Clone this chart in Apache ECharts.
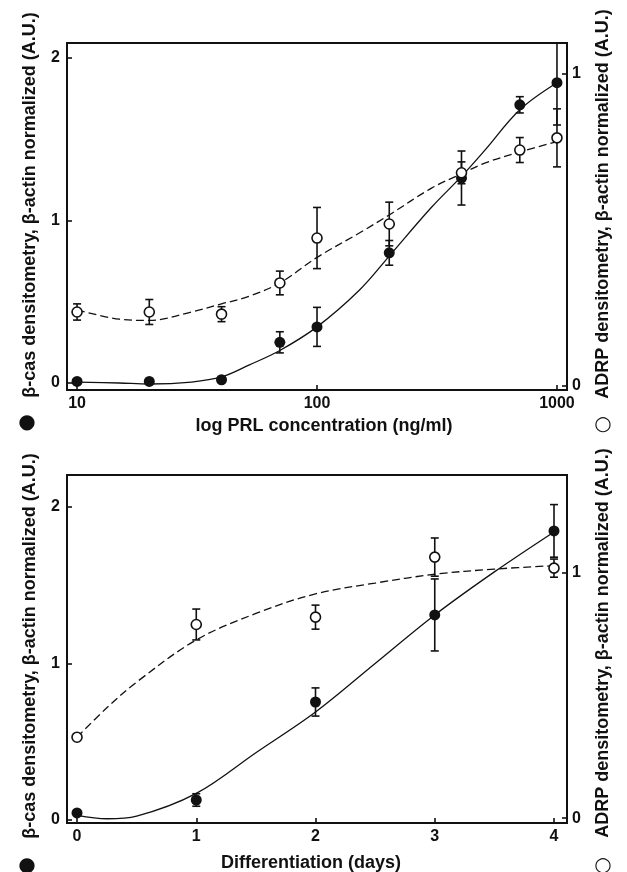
<!DOCTYPE html>
<html><head><meta charset="utf-8">
<script src="https://cdn.jsdelivr.net/npm/echarts@6/dist/echarts.min.js"></script>
<style>html,body{margin:0;padding:0;background:#fff}#c{width:627px;height:872px}</style>
</head><body><div id="c"></div>
<script>
// ---- Top panel: PRL concentration (log scale) ----
const prlConc = [10, 20, 40, 70, 100, 200, 400, 700, 1000];
const casPrl = [0.01, 0.01, 0.02, 0.25, 0.345, 0.80, 1.26, 1.71, 1.846];
const casPrlErr = [0, 0, 0, 0.065, 0.12, 0.076, 0.166, 0.05, 0.26];
const adrpPrl = [0.237, 0.237, 0.23, 0.33, 0.474, 0.519, 0.683, 0.756, 0.795];
const adrpPrlErr = [0.026, 0.04, 0.024, 0.038, 0.098, 0.07, 0.035, 0.04, 0.093];
const prlFitX = [10, 15, 20, 30, 40, 52, 70, 100, 150, 200, 300, 400, 500, 700, 1000];
const casPrlFit = [0.006, 0.0, -0.006, 0.006, 0.037, 0.11, 0.2, 0.345, 0.57, 0.78, 1.08, 1.27, 1.43, 1.68, 1.846];
const adrpPrlFit = [0.244, 0.214, 0.21, 0.237, 0.263, 0.287, 0.33, 0.412, 0.49, 0.548, 0.634, 0.68, 0.714, 0.75, 0.783];
const prlTicks = [10, 100, 1000];
// ---- Bottom panel: differentiation days ----
const days = [0, 1, 2, 3, 4];
const casDay = [0.045, 0.128, 0.754, 1.31, 1.847];
const casDayErr = [0.015, 0.04, 0.09, 0.23, 0.168];
const adrpDay = [0.33, 0.79, 0.82, 1.065, 1.02];
const adrpDayErr = [0, 0.063, 0.049, 0.078, 0.037];
const casDayFitX = [0, 0.25, 0.5, 1, 1.5, 2, 2.5, 3, 3.5, 4];
const casDayFit = [0.03, 0.008, 0.025, 0.17, 0.43, 0.69, 1.0, 1.31, 1.585, 1.84];
const adrpDayFitX = [0, 0.25, 0.5, 1, 1.5, 2, 2.5, 3, 3.5, 4];
const adrpDayFit = [0.33, 0.45, 0.555, 0.727, 0.835, 0.915, 0.959, 0.995, 1.016, 1.03];
const dayTicks = [0, 1, 2, 3, 4];
const casTicks = [0, 1, 2];
const adrpTicks = [0, 1];

const FONT = '"Liberation Sans", Arial, sans-serif';
const INK = '#111';

const zip = (a, b) => a.map((v, i) => [v, b[i]]);
const errData = (x, y, e) => x.map((v, i) => [v, y[i] - e[i], y[i] + e[i]]).filter((d, i) => e[i] > 0);

function errSeries(data, xi, yi) {
  return {
    type: 'custom', xAxisIndex: xi, yAxisIndex: yi, clip: true, z: 3,
    data: data,
    renderItem: function (params, api) {
      const x = api.value(0);
      const lo = api.coord([x, api.value(1)]);
      const hi = api.coord([x, api.value(2)]);
      const w = 4;
      const st = { stroke: INK, lineWidth: 1.6 };
      return {
        type: 'group',
        children: [
          { type: 'line', shape: { x1: lo[0], y1: lo[1], x2: hi[0], y2: hi[1] }, style: st },
          { type: 'line', shape: { x1: lo[0] - w, y1: lo[1], x2: lo[0] + w, y2: lo[1] }, style: st },
          { type: 'line', shape: { x1: hi[0] - w, y1: hi[1], x2: hi[0] + w, y2: hi[1] }, style: st }
        ]
      };
    }
  };
}

function yAxis(grid, min, max, ticks, pos) {
  return {
    type: 'value', gridIndex: grid, min: min, max: max, position: pos,
    splitLine: { show: false },
    axisLine: { show: false, onZero: false },
    axisTick: { show: true, inside: true, length: 5, customValues: ticks, lineStyle: { color: INK, width: 1.6 } },
    axisLabel: { customValues: ticks, color: INK, fontSize: 16, fontWeight: 'bold', fontFamily: FONT, margin: pos === 'left' ? 7 : 5 }
  };
}
function xAxis(grid, type, min, max, ticks) {
  return {
    type: type, gridIndex: grid, min: min, max: max, logBase: 10,
    splitLine: { show: false },
    axisLine: { show: false, onZero: false },
    axisTick: { show: true, inside: true, length: 5, customValues: ticks, lineStyle: { color: INK, width: 1.6 } },
    axisLabel: { customValues: ticks, color: INK, fontSize: 16, fontWeight: 'bold', fontFamily: FONT, margin: 6, formatter: v => String(v) }
  };
}

const chart = echarts.init(document.getElementById('c'), null, { renderer: 'canvas' });
const lineStyleSolid = { color: INK, width: 1.3 };
const lineStyleDash = { color: INK, width: 1.3, type: [8, 4] };
const filledDot = { color: INK, opacity: 1 };
const openDot = { color: '#fff', borderColor: INK, borderWidth: 1.6, opacity: 1 };

const vtext = (x, y, t, size, weight) => ({
  type: 'text', x: x, y: y, rotation: Math.PI / 2,
  style: { text: t, fill: INK, font: (weight || 'bold') + ' ' + size + 'px ' + FONT, textAlign: 'center', textVerticalAlign: 'middle' }
});
const htext = (x, y, t, size, weight, family) => ({
  type: 'text', x: x, y: y,
  style: { text: t, fill: INK, font: (weight || 'bold') + ' ' + size + 'px ' + (family || FONT), textAlign: 'center', textVerticalAlign: 'middle' }
});
const fitLine = (xi, yi, data, style) => ({
  type: 'line', xAxisIndex: xi, yAxisIndex: yi, data: data, smooth: 0.35,
  showSymbol: false, lineStyle: style, z: 2, silent: true
});

chart.setOption({
  animation: false,
  backgroundColor: '#fff',
  grid: [
    { left: 67, right: 60, top: 43, height: 347, show: true, borderColor: INK, borderWidth: 2, backgroundColor: 'transparent' },
    { left: 67, right: 60, top: 475, height: 348, show: true, borderColor: INK, borderWidth: 2, backgroundColor: 'transparent' }
  ],
  xAxis: [
    xAxis(0, 'log', 9.08, 1101, prlTicks),
    xAxis(1, 'value', -0.084, 4.109, dayTicks)
  ],
  yAxis: [
    yAxis(0, -0.043, 2.09, casTicks, 'left'),
    yAxis(0, -0.013, 1.099, adrpTicks, 'right'),
    yAxis(1, -0.019, 2.204, casTicks, 'left'),
    yAxis(1, -0.02, 1.40, adrpTicks, 'right')
  ],
  series: [
    // top panel
    fitLine(0, 0, zip(prlFitX, casPrlFit), lineStyleSolid),
    fitLine(0, 1, zip(prlFitX, adrpPrlFit), lineStyleDash),
    errSeries(errData(prlConc, casPrl, casPrlErr), 0, 0),
    errSeries(errData(prlConc, adrpPrl, adrpPrlErr), 0, 1),
    { type: 'scatter', xAxisIndex: 0, yAxisIndex: 0, data: zip(prlConc, casPrl), symbol: 'circle', symbolSize: 11, itemStyle: filledDot, z: 5 },
    { type: 'scatter', xAxisIndex: 0, yAxisIndex: 1, data: zip(prlConc, adrpPrl), symbol: 'circle', symbolSize: 10, itemStyle: openDot, z: 5 },
    // bottom panel
    fitLine(1, 2, zip(casDayFitX, casDayFit), lineStyleSolid),
    fitLine(1, 3, zip(adrpDayFitX, adrpDayFit), lineStyleDash),
    errSeries(errData(days, casDay, casDayErr), 1, 2),
    errSeries(errData(days, adrpDay, adrpDayErr), 1, 3),
    { type: 'scatter', xAxisIndex: 1, yAxisIndex: 2, data: zip(days, casDay), symbol: 'circle', symbolSize: 11, itemStyle: filledDot, z: 5 },
    { type: 'scatter', xAxisIndex: 1, yAxisIndex: 3, data: zip(days, adrpDay), symbol: 'circle', symbolSize: 10, itemStyle: openDot, z: 5 }
  ],
  graphic: [
    vtext(30, 205, 'β-cas densitometry, β-actin normalized (A.U.)', 18),
    htext(27, 423, '●', 20, 'normal', '"DejaVu Sans", sans-serif'),
    vtext(603, 204, 'ADRP densitometry, β-actin normalized (A.U.)', 18),
    htext(603, 425, '○', 20, 'normal', '"DejaVu Sans", sans-serif'),
    htext(324, 426, 'log PRL concentration (ng/ml)', 18),
    vtext(30, 646, 'β-cas densitometry, β-actin normalized (A.U.)', 18),
    htext(27, 866, '●', 20, 'normal', '"DejaVu Sans", sans-serif'),
    vtext(603, 643, 'ADRP densitometry, β-actin normalized (A.U.)', 18),
    htext(603, 866, '○', 20, 'normal', '"DejaVu Sans", sans-serif'),
    htext(311, 863, 'Differentiation (days)', 18)
  ]
});
</script></body></html>
